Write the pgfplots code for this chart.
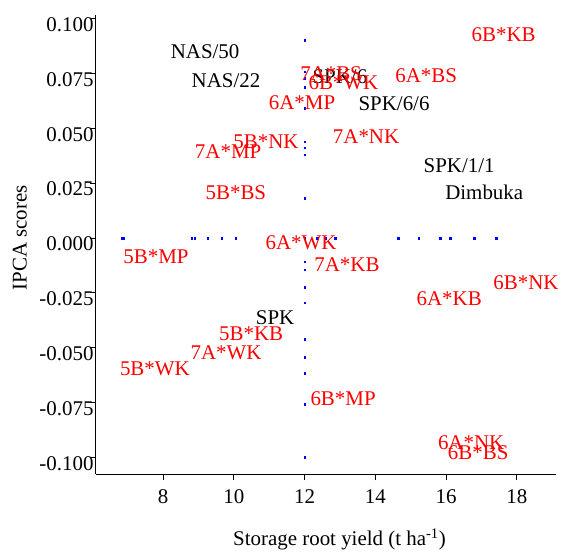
\documentclass[border=0pt]{standalone}
\usepackage{fontspec}
\setmainfont{Liberation Serif}
\usepackage{pgfplots}
\pgfplotsset{compat=1.18}
\usepackage{pgfplotstable}

% label positions (centre of each text)
\pgfplotstableread{
x y lab
9.19 0.0849 NAS/50
9.78 0.0716 NAS/22
13.00 0.0734 SPK/6
14.53 0.0611 SPK/6/6
16.37 0.0328 SPK/1/1
17.08 0.0210 Dimbuka
11.17 -0.0365 SPK
}\blacklabels

\pgfplotstableread{
x y lab
17.63 0.0926 6B*KB
12.75 0.0748 7A*BS
13.10 0.0710 6B*WK
15.44 0.0739 6A*BS
11.93 0.0616 6A*MP
13.74 0.0461 7A*NK
10.91 0.0438 5B*NK
9.84 0.0392 7A*MP
10.06 0.0205 5B*BS
11.90 -0.0023 6A*WK
7.80 -0.0087 5B*MP
13.20 -0.0123 7A*KB
18.26 -0.0205 6B*NK
16.09 -0.0278 6A*KB
10.49 -0.0438 5B*KB
9.78 -0.0525 7A*WK
7.77 -0.0598 5B*WK
13.09 -0.0734 6B*MP
16.71 -0.0935 6A*NK
16.91 -0.0981 6B*BS
}\redlabels

\begin{document}
\begin{tikzpicture}
\begin{axis}[
    at={(0,0)}, anchor=south west,
    scale only axis,
    width=460bp, height=459.3bp,
    xmin=6.097, xmax=19.10,
    ymin=-0.1078, ymax=0.1017,
    axis x line*=bottom,
    axis y line*=left,
    axis line style={line width=0.8pt},
    tick align=outside,
    major tick length=6bp,
    tick style={line width=0.8pt, black},
    xtick={8,10,...,18},
    ytick={-0.1,-0.075,...,0.1},
    /pgf/number format/assume math mode=true,
    ticklabel style={font=\fontsize{21}{24}\selectfont},
    yticklabel style={/pgf/number format/fixed,
      /pgf/number format/fixed zerofill,
      /pgf/number format/precision=3,
      inner xsep=0pt, xshift=4bp, yshift=-6bp},
    xticklabel style={yshift=-6bp},
    xlabel={Storage root yield (t ha\textsuperscript{-1})},
    ylabel={IPCA scores},
    label style={font=\fontsize{21}{24}\selectfont},
    xlabel style={at={(axis description cs:0.53,0)}, anchor=center, yshift=-65bp},
    ylabel style={at={(axis description cs:-0.165,0.515)}, anchor=center, rotate=0},
    clip=false,
]
  % blue dots along y = 0
  \addplot[only marks, mark=square*, mark size=0.8bp, blue] coordinates {
    (6.83,0) (6.87,0) (8.81,0) (8.90,0) (9.26,0) (9.66,0) (10.06,0)
    (12.00,0) (12.35,0) (12.58,0) (12.86,0) (14.64,0) (15.23,0)
    (15.83,0) (16.11,0) (16.79,0) (17.41,0)
  };
  % blue dots along x = 12
  \addplot[only marks, mark=square*, mark size=0.8bp, blue] coordinates {
    (12,0.0903) (12,0.0759) (12,0.0730) (12,0.0689) (12,0.0593)
    (12,0.0439) (12,0.0411) (12,0.0379) (12,0.0182)
    (12,-0.0108) (12,-0.0144) (12,-0.0224) (12,-0.0296)
    (12,-0.0463) (12,-0.0545) (12,-0.0616) (12,-0.0757) (12,-0.1001)
  };
  \addplot[only marks, mark=none, black,
    nodes near coords, point meta=explicit symbolic,
    every node near coord/.style={anchor=center, inner sep=0pt,
      font=\fontsize{21}{24}\selectfont}]
    table[x=x, y=y, meta=lab] {\blacklabels};
  \addplot[only marks, mark=none, red,
    nodes near coords, point meta=explicit symbolic,
    every node near coord/.style={anchor=center, inner sep=0pt,
      font=\fontsize{21}{24}\selectfont}]
    table[x=x, y=y, meta=lab] {\redlabels};
\end{axis}
\pgfresetboundingbox
\path[use as bounding box] (-95.7bp,-77.7bp) rectangle (466.3bp,474.3bp);
\end{tikzpicture}
\end{document}
